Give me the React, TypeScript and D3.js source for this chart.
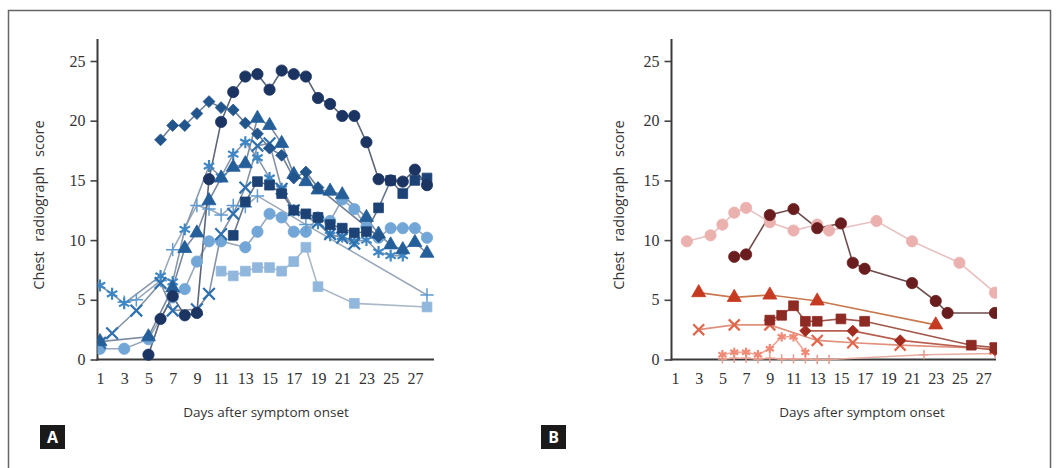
import React, { useEffect, useRef } from "react";
import * as d3 from "d3";

type Pt = [number, number];

// shared axis values
const dayTicks = [1, 3, 5, 7, 9, 11, 13, 15, 17, 19, 21, 23, 25, 27];
const scoreTicks = [0, 5, 10, 15, 20, 25];

// Panel A (blue) - [day, chest radiograph score]
const aCircleNavy: Pt[] = [[5, 0.4], [6, 3.4], [7, 5.3], [8, 3.7], [9, 3.9], [10, 15.1], [11, 19.9], [12, 22.4], [13, 23.7], [14, 23.9], [15, 22.6], [16, 24.2], [17, 23.9], [18, 23.7], [19, 21.9], [20, 21.4], [21, 20.4], [22, 20.4], [23, 18.2], [24, 15.1], [25, 15.0], [26, 14.9], [27, 15.9], [28, 14.6]];
const aSquareDark: Pt[] = [[12, 10.4], [13, 13.2], [14, 14.9], [15, 14.6], [16, 13.9], [17, 12.5], [18, 12.2], [19, 11.9], [20, 11.3], [21, 11.0], [22, 10.6], [23, 10.7], [24, 12.7], [25, 15.0], [26, 13.9], [27, 15.0], [28, 15.2]];
const aDiamond: Pt[] = [[6, 18.4], [7, 19.6], [8, 19.6], [9, 20.6], [10, 21.6], [11, 21.1], [12, 20.9], [13, 19.8], [14, 18.9], [15, 17.7], [16, 17.1], [17, 15.2], [18, 15.7], [19, 14.4], [24, 10.3]];
const aTriangle: Pt[] = [[1, 1.5], [5, 1.9], [7, 6.0], [8, 9.3], [9, 10.6], [10, 13.3], [11, 15.2], [12, 16.1], [13, 16.4], [14, 20.2], [15, 19.6], [16, 18.1], [17, 15.5], [18, 14.9], [19, 14.2], [20, 14.1], [21, 13.8], [23, 11.9], [24, 10.5], [25, 9.6], [26, 9.2], [27, 9.8], [28, 8.9]];
const aCrossDark: Pt[] = [[1, 1.4], [2, 2.2], [4, 4.1], [6, 6.4], [7, 4.1], [9, 4.2], [10, 5.5], [11, 10.5], [12, 12.2], [13, 14.4], [14, 17.9], [15, 18.1], [16, 14.3], [17, 12.5], [19, 11.5], [20, 10.5], [21, 10.2], [22, 9.7]];
const aCrossStar: Pt[] = [[1, 6.2], [2, 5.5], [3, 4.7], [6, 7.0], [7, 6.5], [8, 10.9], [10, 16.2], [11, 15.3], [12, 17.2], [13, 18.2], [14, 16.9], [15, 15.2], [16, 14.3], [17, 12.5], [19, 11.4], [20, 10.4], [21, 10.3], [22, 9.9], [23, 10.0], [24, 9.0], [25, 8.7], [26, 8.7]];
const aPlus: Pt[] = [[3, 4.8], [4, 5.0], [6, 6.6], [7, 9.2], [9, 12.9], [10, 12.6], [11, 12.1], [12, 12.9], [13, 12.8], [14, 13.7], [18, 11.3], [28, 5.4]];
const aCircleLight: Pt[] = [[1, 0.9], [3, 0.9], [5, 1.7], [7, 5.2], [8, 5.9], [9, 8.2], [10, 9.9], [11, 9.9], [13, 9.4], [14, 10.7], [15, 12.2], [16, 11.9], [17, 10.7], [18, 10.7], [19, 11.9], [20, 11.6], [21, 13.4], [22, 12.6], [23, 11.1], [24, 10.2], [25, 11.0], [26, 11.0], [27, 11.0], [28, 10.2]];
const aSquareLight: Pt[] = [[11, 7.4], [12, 7.0], [13, 7.4], [14, 7.7], [15, 7.7], [16, 7.4], [17, 8.2], [18, 9.4], [19, 6.1], [22, 4.7], [28, 4.4]];

// Panel B (red)
const bCirclePink: Pt[] = [[2, 9.9], [4, 10.4], [5, 11.3], [6, 12.3], [7, 12.7], [9, 11.5], [11, 10.8], [13, 11.3], [14, 10.8], [18, 11.6], [21, 9.9], [25, 8.1], [28, 5.6]];
const bCircleMaroon: Pt[] = [[6, 8.6], [7, 8.8], [9, 12.1], [11, 12.6], [13, 11.0], [15, 11.4], [16, 8.1], [17, 7.6], [21, 6.4], [23, 4.9], [24, 3.9], [28, 3.9]];
const bTriangle: Pt[] = [[3, 5.6], [6, 5.2], [9, 5.4], [13, 4.9], [23, 2.9]];
const bSquare: Pt[] = [[9, 3.3], [10, 3.7], [11, 4.5], [12, 3.2], [13, 3.2], [15, 3.4], [17, 3.2], [26, 1.2], [28, 1.0]];
const bDiamond: Pt[] = [[12, 2.4], [16, 2.4], [20, 1.6], [28, 0.8]];
const bCross: Pt[] = [[3, 2.5], [6, 2.9], [9, 2.9], [13, 1.6], [16, 1.4], [20, 1.2], [28, 0.9]];
const bStar: Pt[] = [[5, 0.4], [6, 0.6], [7, 0.6], [8, 0.4], [9, 0.9], [10, 1.9], [11, 1.9], [12, 0.6]];
const bPlus: Pt[] = [[5, 0.05], [6, 0.1], [7, 0.1], [8, 0.05], [9, 0.1], [10, 0.05], [11, 0.05], [12, 0.05], [13, 0.0], [14, 0.0], [22, 0.4], [28, 0.5]];

const seriesA = [
  { pts: aSquareLight, shape: "square", color: "#92b7dd", line: "#aab8c8", size: 95 },
  { pts: aCircleLight, shape: "circle", color: "#72a6d6", line: "#98a8ba", size: 100 },
  { pts: aPlus, shape: "plus", color: "#5f9ad0", line: "#9aa9bb", size: 60 },
  { pts: aCrossStar, shape: "star", color: "#3f86c4", line: "#8898ad", size: 100 },
  { pts: aCrossDark, shape: "cross", color: "#2f70ae", line: "#8593a6", size: 90 },
  { pts: aTriangle, shape: "triangle", color: "#245f9a", line: "#7c8aa0", size: 85 },
  { pts: aDiamond, shape: "diamond", color: "#23558d", line: "#6f7f96", size: 70 },
  { pts: aSquareDark, shape: "square", color: "#1d4275", line: "#6a778c", size: 95 },
  { pts: aCircleNavy, shape: "circle", color: "#1c3462", line: "#5b6679", size: 100 },
];

const seriesB = [
  { pts: bPlus, shape: "plus", color: "#e69c8e", line: "#e8aea2", size: 30 },
  { pts: bStar, shape: "star", color: "#ee8a76", line: "#f0a596", size: 60 },
  { pts: bCross, shape: "cross", color: "#e0664c", line: "#e0907c", size: 80 },
  { pts: bDiamond, shape: "diamond", color: "#a02b1f", line: "#b8604f", size: 65 },
  { pts: bSquare, shape: "square", color: "#8e2a24", line: "#a0554a", size: 95 },
  { pts: bTriangle, shape: "triangle", color: "#c63a22", line: "#c9794f", size: 85 },
  { pts: bCirclePink, shape: "circle", color: "#ebb1ae", line: "#e9c1c0", size: 100 },
  { pts: bCircleMaroon, shape: "circle", color: "#6a1d1e", line: "#6f4c4c", size: 100 },
];

const symbolOf: Record<string, d3.SymbolType> = {
  circle: d3.symbolCircle,
  square: d3.symbolSquare,
  diamond: d3.symbolSquare,
  triangle: d3.symbolTriangle,
  cross: d3.symbolTimes,
  star: d3.symbolAsterisk,
  plus: d3.symbolPlus,
};

function drawPanel(svg: any, p: any) {
  const x = d3.scaleLinear().domain([1, 28]).range([p.day1, p.day28]);
  const y = d3.scaleLinear().domain([0, 25]).range([359.5, 61]);
  const g = svg.append("g");

  // y ticks
  const yAxis = d3.axisLeft(y).tickValues(scoreTicks).tickSize(7).tickPadding(5);
  const ya = g.append("g").attr("transform", `translate(${p.axisX},0)`).call(yAxis);
  ya.select(".domain").remove();
  ya.selectAll("line").attr("stroke", "#444").attr("stroke-width", 1.6);
  ya.selectAll("text").attr("font-family", "Liberation Serif").attr("font-size", 16).attr("fill", "#333");

  // x tick labels only
  const xAxis = d3.axisBottom(x).tickValues(dayTicks).tickSize(0).tickPadding(13);
  const xa = g.append("g").attr("transform", `translate(0,${y(0)})`).call(xAxis);
  xa.select(".domain").remove();
  xa.selectAll("text").attr("font-family", "Liberation Serif").attr("font-size", 16).attr("fill", "#333");

  // axis lines
  g.append("line").attr("x1", p.axisX).attr("x2", p.axisX).attr("y1", 39).attr("y2", y(0) + 1)
    .attr("stroke", "#3a3a3a").attr("stroke-width", 2);
  g.append("line").attr("x1", p.axisX - 1).attr("x2", p.axisEnd).attr("y1", y(0)).attr("y2", y(0))
    .attr("stroke", "#3a3a3a").attr("stroke-width", 2);

  g.append("text")
    .attr("transform", `translate(${p.yLabelX},205) rotate(-90)`)
    .attr("text-anchor", "middle")
    .attr("font-family", "Open Sans").attr("font-size", 14.5).attr("word-spacing", 6)
    .attr("fill", "#333")
    .text("Chest radiograph score");

  g.append("text")
    .attr("x", p.xLabelX).attr("y", 417)
    .attr("text-anchor", "middle")
    .attr("font-family", "Open Sans").attr("font-size", 13.5)
    .attr("fill", "#333")
    .text("Days after symptom onset");

  // panel letter
  g.append("rect").attr("x", p.boxX).attr("y", 425).attr("width", 25).attr("height", 24).attr("fill", "#1a1a1a");
  g.append("text").attr("x", p.boxX + 12.5).attr("y", 443).attr("text-anchor", "middle")
    .attr("font-family", "Open Sans").attr("font-weight", 700).attr("font-size", 16).attr("fill", "#fff")
    .text(p.letter);

  const clipId = `clip-${p.letter}`;
  svg.append("clipPath").attr("id", clipId).append("rect")
    .attr("x", p.axisX).attr("y", 30).attr("width", p.clipRight - p.axisX).attr("height", 340);

  const plot = g.append("g").attr("clip-path", `url(#${clipId})`);
  const line = d3.line<Pt>().x((d) => x(d[0])).y((d) => y(d[1]));

  p.series.forEach((s: any) => {
    plot.append("path").datum(s.pts).attr("d", line).attr("fill", "none")
      .attr("stroke", s.line).attr("stroke-width", 1.6);
  });
  p.series.forEach((s: any) => {
    const stroked = s.shape === "cross" || s.shape === "star" || s.shape === "plus";
    const sym = d3.symbol().type(symbolOf[s.shape]).size(s.size);
    plot.selectAll(null).data(s.pts).enter().append("path")
      .attr("d", sym)
      .attr("transform", (d: Pt) => `translate(${x(d[0])},${y(d[1])})${s.shape === "diamond" ? " rotate(45)" : ""}`)
      .attr("fill", stroked ? "none" : s.color)
      .attr("stroke", s.color)
      .attr("stroke-width", stroked ? (s.shape === "plus" ? 1.5 : 2.2) : 0.8);
  });
}

export default function App() {
  const ref = useRef<SVGSVGElement>(null);

  useEffect(() => {
    const svg = d3.select(ref.current);
    svg.selectAll("*").remove();

    svg.append("path").attr("d", "M8.5,468 V10.5 H1050.5 V468")
      .attr("fill", "none").attr("stroke", "#666").attr("stroke-width", 1.5);

    drawPanel(svg, {
      letter: "A", series: seriesA, axisX: 97.5, axisEnd: 434, day1: 100, day28: 427,
      clipRight: 440, yLabelX: 44, xLabelX: 266, boxX: 40,
    });
    drawPanel(svg, {
      letter: "B", series: seriesB, axisX: 671.5, axisEnd: 996, day1: 675, day28: 995,
      clipRight: 997, yLabelX: 624, xLabelX: 862, boxX: 541,
    });
  }, []);

  return (
    <svg ref={ref} width={1059} height={468}
      style={{ position: "absolute", left: 0, top: 0, background: "#fff" }} />
  );
}
